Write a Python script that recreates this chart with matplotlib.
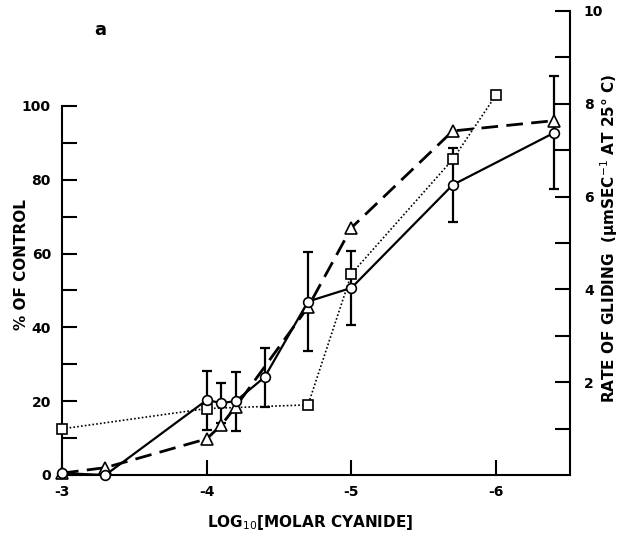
import matplotlib
matplotlib.use("Agg")
import matplotlib.pyplot as plt
from matplotlib.ticker import FixedLocator

plt.rcParams['font.family'] = ['DejaVu Sans']
plt.rcParams['axes.unicode_minus'] = False

# Data
x_circle = [-3.0, -3.3, -4.0, -4.1, -4.2, -4.4, -4.7, -5.0, -5.7, -6.4]
y_circle = [0.5, 0.0, 20.3, 19.5, 20.0, 26.5, 47.0, 50.7, 78.6, 92.7]
err_circle = [0, 0, 8, 5.5, 8, 8, 13.5, 10, 10, 15.3]

x_square = [-3.0, -4.0, -4.7, -5.0, -5.7, -6.0]
y_square = [12.5, 18.0, 19.0, 54.5, 85.5, 103.0]

x_tri = [-3.0, -3.3, -4.0, -4.1, -4.2, -4.7, -5.0, -5.7, -6.4]
y_tri = [0.5, 2.0, 9.8, 13.5, 18.5, 45.5, 67.0, 93.2, 96.0]

x_ticks = [-3, -4, -5, -6]
x_ticklabels = ['-3', '-4', '-5', '-6']
left_ticks = [0, 20, 40, 60, 80, 100]
left_minor = [10, 30, 50, 70, 90]
right_ticks = [2, 4, 6, 8, 10]
right_minor = [1, 3, 5, 7, 9]

fig = plt.figure(figsize=(6.28, 5.5), dpi=100)
ax = fig.add_axes([62/628, 75/550, 508/628, 464/550])
ymax = 125.7
ax.set_xlim(-3, -6.51)
ax.set_ylim(0, ymax)

ms = 7.0
# dotted squares
ax.plot(x_square, y_square, linestyle=(0, (1, 1.3)), color='black', lw=1.2,
        marker='s', ms=ms - 0.5, mfc='white', mec='black', mew=1.2, clip_on=False, zorder=3)
# dashed triangles
ax.plot(x_tri, y_tri, linestyle=(0, (6, 3)), color='black', lw=2.0,
        marker='^', ms=ms + 1, mfc='white', mec='black', mew=1.2, clip_on=False, zorder=4)
# solid circles with error bars
ax.errorbar(x_circle, y_circle, yerr=err_circle, fmt='none', ecolor='black',
            elinewidth=1.6, capsize=3.5, capthick=1.6, zorder=2)
ax.plot(x_circle, y_circle, linestyle='-', color='black', lw=1.6,
        marker='o', ms=ms, mfc='white', mec='black', mew=1.2, clip_on=False, zorder=5)

ax.spines['top'].set_visible(False)
ax.spines['right'].set_visible(False)
ax.spines['left'].set_bounds(0, 100)
for s in ['left', 'bottom']:
    ax.spines[s].set_linewidth(1.5)

ax.xaxis.set_major_locator(FixedLocator(x_ticks))
ax.set_xticklabels(x_ticklabels)
ax.yaxis.set_major_locator(FixedLocator(left_ticks))
ax.yaxis.set_minor_locator(FixedLocator(left_minor))
ax.tick_params(axis='x', direction='in', length=11, width=1.5, pad=7, labelsize=10)
ax.tick_params(axis='y', which='both', direction='in', length=11, width=1.5, pad=8, labelsize=10)
for lab in ax.get_xticklabels() + ax.get_yticklabels():
    lab.set_fontweight('bold')

ax2 = ax.twinx()
ax2.set_ylim(0, 10)
for s in ['top', 'left', 'bottom']:
    ax2.spines[s].set_visible(False)
ax2.spines['right'].set_linewidth(1.5)
ax2.spines['right'].set_bounds(0, 10)
ax2.yaxis.set_major_locator(FixedLocator(right_ticks))
ax2.yaxis.set_minor_locator(FixedLocator(right_minor))
ax2.set_yticklabels([str(t) for t in right_ticks])
ax2.tick_params(axis='y', which='both', direction='in', length=11, width=1.5, pad=10, labelsize=10)
for lab in ax2.get_yticklabels():
    lab.set_fontweight('bold')

fig.text(22/628, 1 - 265/550, '% OF CONTROL', rotation=90, ha='center', va='center',
         fontsize=11, fontweight='bold')
fig.text(609/628, 1 - 238/550, 'RATE OF GLIDING  ($\\mathbf{\\mu}$mSEC$^{-1}$ AT 25° C)', rotation=90,
         ha='center', va='center', fontsize=11, fontweight='bold')
fig.text(310/628, 1 - 522/550, 'LOG$_{10}$[MOLAR CYANIDE]', ha='center', va='center',
         fontsize=11, fontweight='bold')
fig.text(100/628, 1 - 30/550, 'a', ha='center', va='center', fontsize=13, fontweight='bold')

fig.savefig('out.png', dpi=100)
